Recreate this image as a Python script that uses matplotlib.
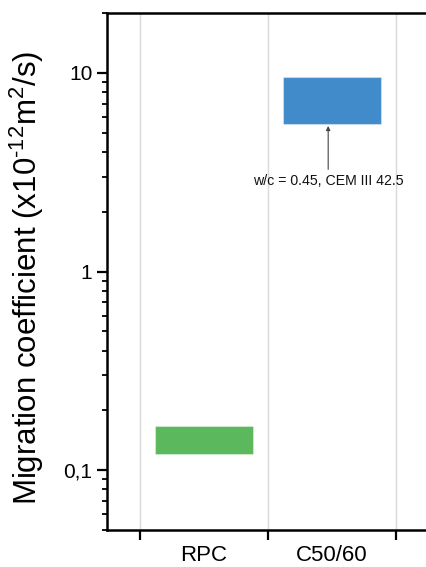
import matplotlib
matplotlib.use("Agg")
import matplotlib.pyplot as plt
from matplotlib.ticker import FixedLocator, NullFormatter, LogLocator, FixedFormatter

plt.rcParams['font.family'] = ['Liberation Sans', 'DejaVu Sans']
plt.rcParams['mathtext.fontset'] = 'custom'
plt.rcParams['mathtext.rm'] = 'Liberation Sans'
plt.rcParams['mathtext.it'] = 'Liberation Sans'

# Data
categories = ["RPC", "C50/60"]
low_values = [0.12, 5.5]
high_values = [0.167, 9.5]
bar_colors = ["#5cb85c", "#428bca"]
ytick_values = [0.1, 1, 10]
ytick_labels = ["0,1", "1", "10"]
annotation_text = "w/c = 0.45, CEM III 42.5"

fig = plt.figure(figsize=(4.27, 5.67), dpi=100)
ax = fig.add_axes([107/427, 1 - 530/567, 1 - 107/427, (530 - 13)/567])

positions = [i + 0.5 for i in range(len(categories))]
heights = [h - l for l, h in zip(low_values, high_values)]
ax.bar(positions, heights, bottom=low_values, width=0.76, color=bar_colors,
       edgecolor=[(1, 1, 1, 0.35)] * 2, linewidth=0.8, zorder=3)

ax.set_yscale('log')
ax.set_ylim(0.05, 20)
ax.set_xlim(-0.258, 2.242)

ax.yaxis.set_major_locator(FixedLocator(ytick_values))
ax.yaxis.set_major_formatter(FixedFormatter(ytick_labels))
ax.yaxis.set_minor_locator(LogLocator(base=10, subs=range(2, 10)))
ax.yaxis.set_minor_formatter(NullFormatter())

ax.xaxis.set_major_locator(FixedLocator([0, 1, 2]))
ax.xaxis.set_major_formatter(NullFormatter())
ax.xaxis.set_minor_locator(FixedLocator(positions))
ax.xaxis.set_minor_formatter(FixedFormatter(categories))

ax.tick_params(axis='both', which='major', direction='out', length=7.5, width=1.6,
               labelsize=15, color='black', pad=3)
ax.tick_params(axis='y', which='minor', direction='out', length=3.8, width=1.3)
ax.tick_params(axis='x', which='minor', length=0, labelsize=16, pad=11)

ax.grid(axis='x', which='major', color='#d9d9d9', linewidth=1.0, zorder=0)

for side in ['left', 'bottom', 'top']:
    ax.spines[side].set_linewidth(1.8)
ax.spines['right'].set_visible(False)

ax.set_ylabel("Migration coefficient (x10$^{\\mathregular{\u2010}12}$m$^{\\mathregular{2}}$/s)",
              fontsize=22.5)
ax.yaxis.set_label_coords(-0.19, 0.487)

ax.annotate(annotation_text, xy=(1.47, 5.4), xytext=(1.47, 2.87),
            ha='center', va='center', fontsize=10.2, color='#111111',
            arrowprops=dict(arrowstyle='-|>', color='#444444', lw=0.8,
                            mutation_scale=6, shrinkA=1, shrinkB=0))

fig.savefig("out.png", dpi=100)
